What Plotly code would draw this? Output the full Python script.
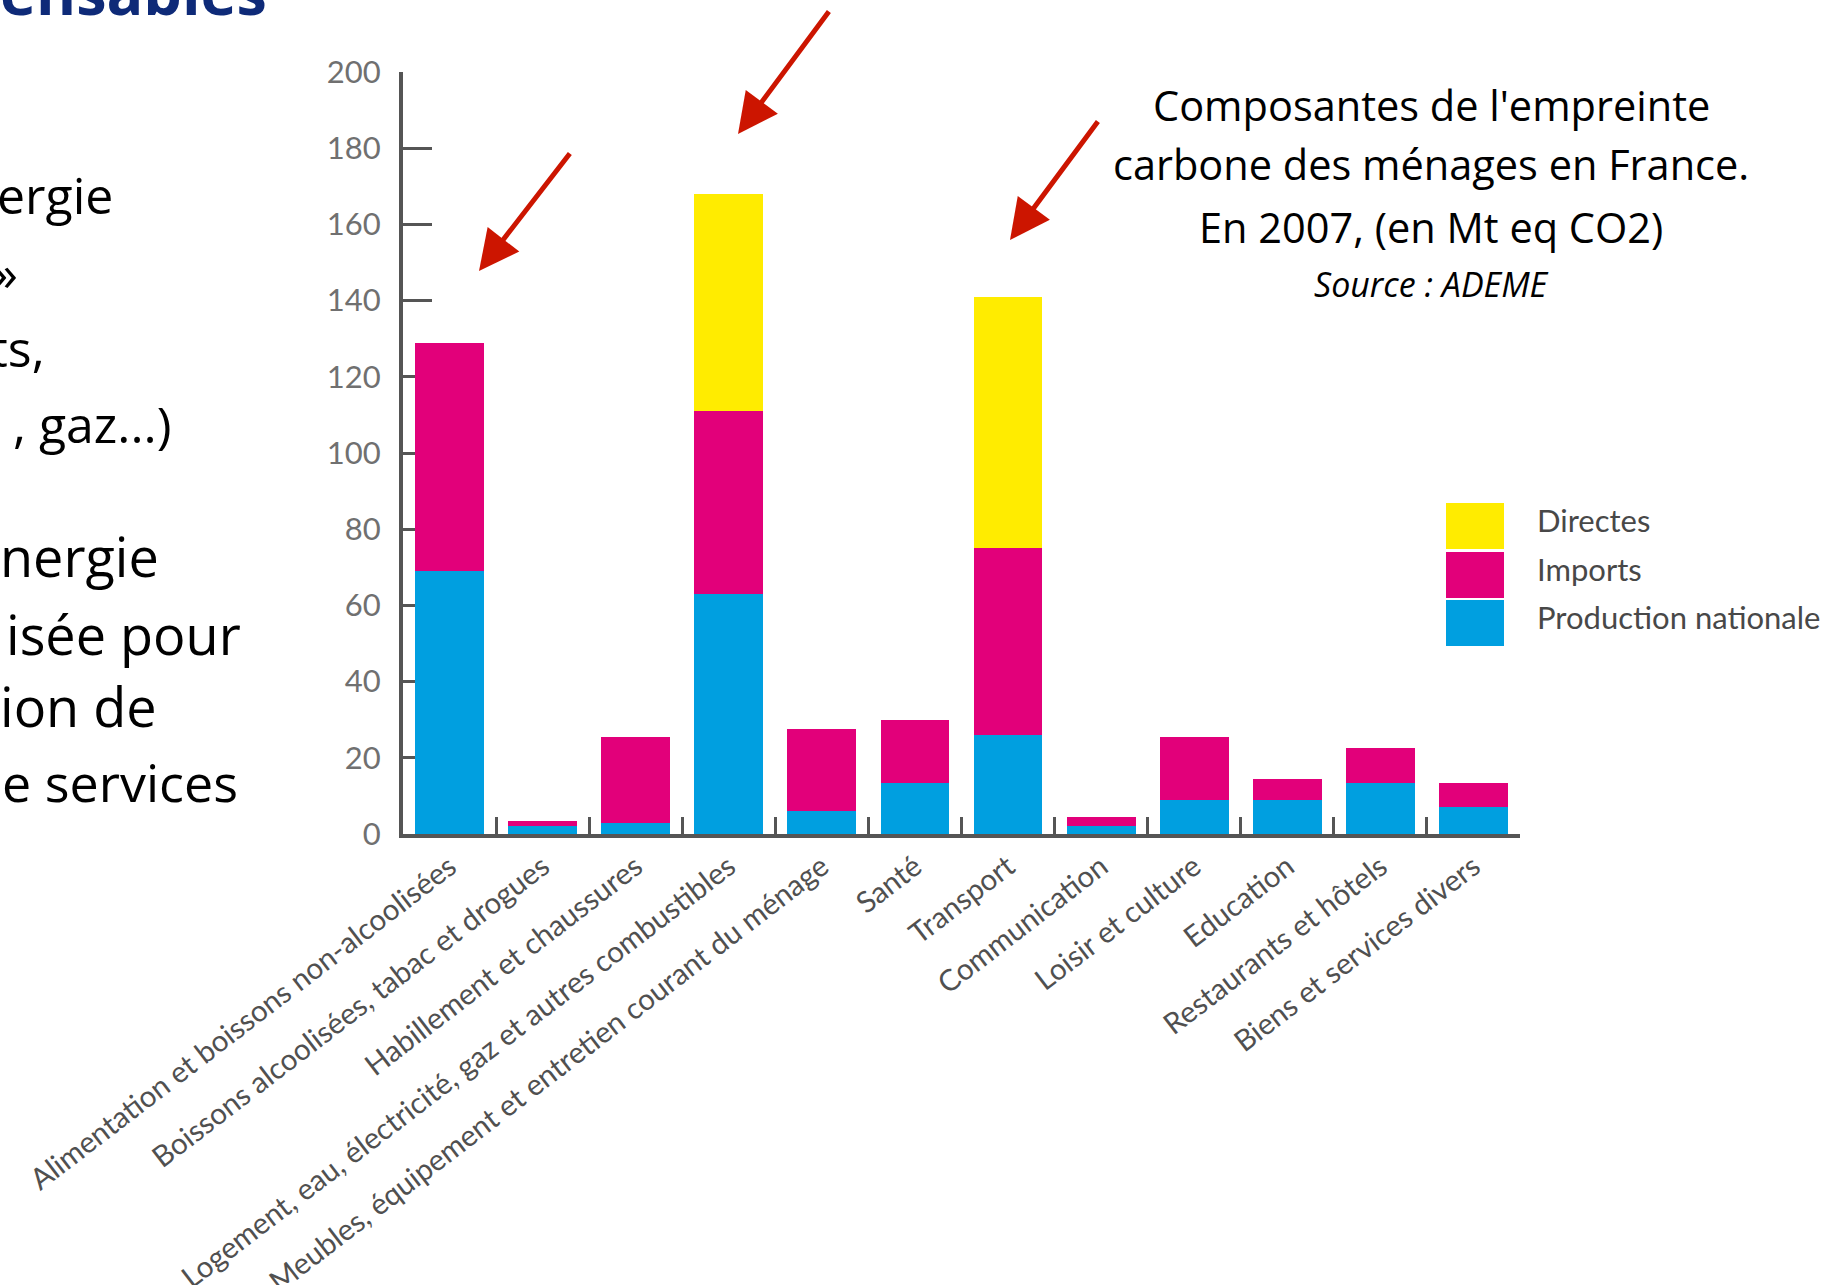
import plotly.graph_objects as go

# ---------------- data ----------------
categories = [
    "Alimentation et boissons non-alcoolisées",
    "Boissons alcoolisées, tabac et drogues",
    "Habillement et chaussures",
    "Logement, eau, électricité, gaz et autres combustibles",
    "Meubles, équipement et entretien courant du ménage",
    "Santé",
    "Transport",
    "Communication",
    "Loisir et culture",
    "Education",
    "Restaurants et hôtels",
    "Biens et services divers",
]
production_nationale = [69, 2, 3, 63, 6, 13.5, 26, 2, 9, 9, 13.5, 7]
imports = [60, 1.5, 22.5, 48, 21.5, 16.5, 49, 2.5, 16.5, 5.5, 9, 6.5]
directes = [0, 0, 0, 57, 0, 0, 66, 0, 0, 0, 0, 0]

series_names = ["Production nationale", "Imports", "Directes"]
series_values = [production_nationale, imports, directes]
series_colors = ["#009FE0", "#E2007A", "#FFEC00"]

y_ticks = list(range(0, 201, 20))

title_lines = [
    "Composantes de l'empreinte",
    "carbone des ménages en France.",
    "En 2007, (en Mt eq CO2)",
]
source_text = "Source : ADEME"

slide_title = "ensables"
slide_text = ["ergie", "»", "ts,", ", gaz...)", "nergie", "isée pour", "ion de", "e services"]

# ---------------- layout helpers ----------------
W, H = 1833, 1285
L, R, T, B = 403, 313, 72, 451
PW, PH = W - L - R, H - T - B


def px(x):
    return (x - L) / PW


def py(y):
    return (H - B - y) / PH


fig = go.Figure()
for name, vals, col in zip(series_names, series_values, series_colors):
    fig.add_trace(go.Bar(
        x=categories, y=vals, name=name,
        marker=dict(color=col, line=dict(width=0)),
    ))

axis_col = "#555555"
fig.update_layout(
    barmode="stack",
    bargap=0.26,
    width=W, height=H,
    margin=dict(l=L, r=R, t=T, b=B, autoexpand=False),
    paper_bgcolor="white",
    plot_bgcolor="white",
    showlegend=False,
    font=dict(family="Lato", color=axis_col),
)
fig.update_xaxes(
    showline=True, linecolor=axis_col, linewidth=4,
    ticks="inside", tickson="boundaries", ticklen=17, tickwidth=3, tickcolor=axis_col,
    tickangle=-37.5, tickfont=dict(family="Lato", size=29.5, color="#505050"),
    automargin=False, showgrid=False, range=[-0.5, 11.5],
)
fig.update_yaxes(
    range=[0, 200], tickvals=y_ticks, ticktext=[str(v) for v in y_ticks],
    showline=True, linecolor=axis_col, linewidth=4,
    ticks="inside", ticklen=29, tickwidth=3, tickcolor=axis_col,
    tickfont=dict(family="Lato", size=31, color="#707070"),
    ticklabelstandoff=12,
    showgrid=False, zeroline=False, automargin=False, layer="below traces",
)

ann = []
# chart title block
title_y = [105, 164, 227]
for txt, yy in zip(title_lines, title_y):
    ann.append(dict(text=txt, x=px(1431), y=py(yy), xref="paper", yref="paper",
                    xanchor="center", yanchor="middle", showarrow=False,
                    font=dict(family="Open Sans", size=41.5, color="black")))
ann.append(dict(text="<i>" + source_text + "</i>", x=px(1431), y=py(284), xref="paper", yref="paper",
                xanchor="center", yanchor="middle", showarrow=False,
                font=dict(family="Open Sans", size=34, color="black")))

# manual legend (large swatches)
leg_items = list(zip(series_names, series_colors))[::-1]  # Directes, Imports, Production
sw_top = [503, 552, 600]
sw_h = 46
shapes = []
for (name, col), top in zip(leg_items, sw_top):
    shapes.append(dict(type="rect", xref="paper", yref="paper",
                       x0=px(1446), x1=px(1504), y0=py(top + sw_h), y1=py(top),
                       fillcolor=col, line=dict(width=0)))
    ann.append(dict(text=name, x=px(1535), y=py(top + sw_h / 2 - 6), xref="paper", yref="paper",
                    xanchor="left", yanchor="middle", showarrow=False,
                    font=dict(family="Lato", size=31, color="#484848")))

# red arrows
arrows = [((479, 271), (571, 152)), ((738, 134), (830, 10)), ((1010, 240), (1099, 120))]
for (hx, hy), (tx, ty) in arrows:
    ann.append(dict(text="", x=px(hx), y=py(hy), xref="paper", yref="paper",
                    ax=tx - hx, ay=ty - hy, showarrow=True,
                    arrowhead=2, arrowsize=1.6, arrowwidth=5, arrowcolor="#CC1500"))

# partial slide text on the left (cut by the page edge)
ann.append(dict(text="<b>" + slide_title + "</b>", x=px(269), y=py(-8), xref="paper", yref="paper",
                xanchor="right", yanchor="middle", showarrow=False,
                font=dict(family="Open Sans", size=61, color="#0E2A78")))
text_right = [115, 20, 47, 173, 161, 243, 159, 240]
text_base = [212, 289, 365, 441, 573, 651, 723, 798]
text_size = [50, 50, 50, 50, 54, 54, 54, 52]
for txt, xr, yb, fs in zip(slide_text, text_right, text_base, text_size):
    ann.append(dict(text=txt, x=px(xr), y=py(yb - 17), xref="paper", yref="paper",
                    xanchor="right", yanchor="middle", showarrow=False,
                    font=dict(family="Open Sans", size=fs, color="black")))

fig.update_layout(annotations=ann, shapes=shapes)

fig.write_html("out.html", config={"displayModeBar": False},
               post_script="document.body.style.margin='0';")
